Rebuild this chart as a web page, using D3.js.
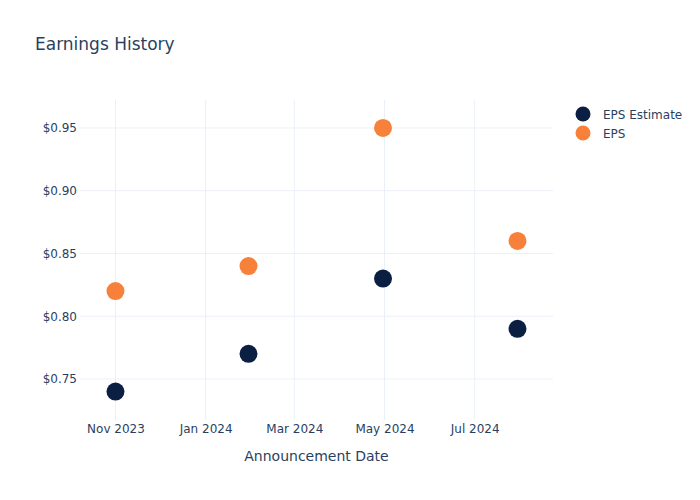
<!DOCTYPE html>
<html>
<head>
<meta charset="utf-8">
<script src="https://cdn.jsdelivr.net/npm/d3@7"></script>
<style>
  body { margin: 0; background: #fff; }
  text { font-family: "DejaVu Sans", Verdana, sans-serif; fill: #2a3f5f; }
</style>
</head>
<body>
<div id="chart"></div>
<script>
// Data
const dates = ["2023-11-01", "2024-01-30", "2024-04-30", "2024-07-30"];
const epsEstimate = [0.74, 0.77, 0.83, 0.79];
const eps = [0.82, 0.84, 0.95, 0.86];
const yTicks = [0.75, 0.80, 0.85, 0.90, 0.95];
const xTicks = ["2023-11-01", "2024-01-01", "2024-03-01", "2024-05-01", "2024-07-01"];
const seriesNames = ["EPS Estimate", "EPS"];
const seriesColors = ["#0b1f43", "#f7813a"];

const width = 700, height = 500;
const margin = { top: 100, right: 147, bottom: 80, left: 80 };
const innerWidth = width - margin.left - margin.right;
const innerHeight = height - margin.top - margin.bottom;

const parse = d3.utcParse("%Y-%m-%d");

const svg = d3.select("#chart")
    .append("svg")
    .attr("width", width)
    .attr("height", height);

const xScale = d3.scaleUtc()
    .domain([parse("2023-10-08"), parse("2024-08-23")])
    .range([0, innerWidth]);

const yScale = d3.scaleLinear()
    .domain([0.7173, 0.9723])
    .range([innerHeight, 0]);

const g = svg.append("g")
    .attr("transform", `translate(${margin.left}, ${margin.top})`);

// Grid lines
g.selectAll(".ygrid")
    .data(yTicks)
    .enter()
    .append("line")
    .attr("x1", 0)
    .attr("x2", innerWidth)
    .attr("y1", d => yScale(d))
    .attr("y2", d => yScale(d))
    .attr("stroke", "#ebf0f8")
    .attr("stroke-width", 1);

g.selectAll(".xgrid")
    .data(xTicks)
    .enter()
    .append("line")
    .attr("x1", d => xScale(parse(d)))
    .attr("x2", d => xScale(parse(d)))
    .attr("y1", 0)
    .attr("y2", innerHeight)
    .attr("stroke", "#ebf0f8")
    .attr("stroke-width", 1);

// Axes (labels only, no domain or tick marks)
function cleanAxis(s) {
    s.attr("font-family", null).attr("font-size", null).attr("fill", null);
    s.select(".domain").remove();
    s.selectAll(".tick line").remove();
    s.selectAll("text")
        .attr("fill", "#2a3f5f")
        .style("font-size", "12px");
}

const yAxis = d3.axisLeft(yScale)
    .tickValues(yTicks)
    .tickSize(0)
    .tickPadding(3)
    .tickFormat(d => "$" + d3.format(".2f")(d));

g.append("g")
    .call(yAxis)
    .call(cleanAxis);

const xAxis = d3.axisBottom(xScale)
    .tickValues(xTicks.map(parse))
    .tickSize(0)
    .tickPadding(4)
    .tickFormat(d3.utcFormat("%b %Y"));

g.append("g")
    .attr("transform", `translate(0, ${innerHeight})`)
    .call(xAxis)
    .call(cleanAxis);

// Markers
const series = [epsEstimate, eps];
series.forEach((values, i) => {
    g.selectAll(".pt" + i)
        .data(values)
        .enter()
        .append("circle")
        .attr("cx", (d, j) => xScale(parse(dates[j])))
        .attr("cy", d => yScale(d))
        .attr("r", 9)
        .attr("fill", seriesColors[i]);
});

// Title
svg.append("text")
    .attr("x", 35)
    .attr("y", 50)
    .style("font-size", "17px")
    .text("Earnings History");

// X axis title
svg.append("text")
    .attr("x", margin.left + innerWidth / 2)
    .attr("y", 461)
    .attr("text-anchor", "middle")
    .style("font-size", "14px")
    .text("Announcement Date");

// Legend
const legend = svg.append("g")
    .attr("transform", "translate(583, 114)");

seriesNames.forEach((name, i) => {
    legend.append("circle")
        .attr("cx", 0)
        .attr("cy", i * 19)
        .attr("r", 7.5)
        .attr("fill", seriesColors[i]);
    legend.append("text")
        .attr("x", 20)
        .attr("y", i * 19 + 4.5)
        .style("font-size", "12px")
        .text(name);
});
</script>
</body>
</html>
